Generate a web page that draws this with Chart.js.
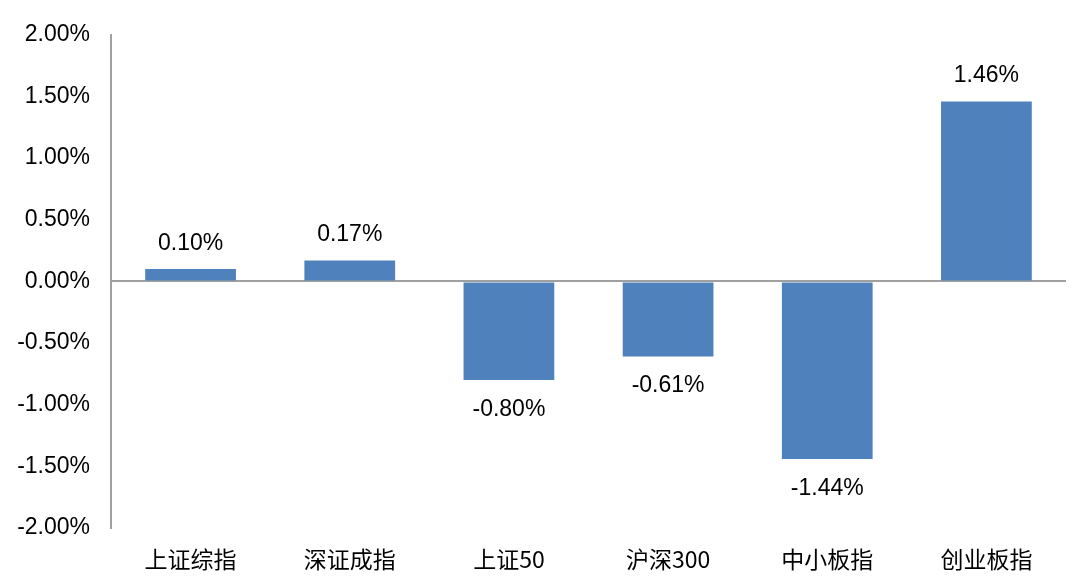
<!DOCTYPE html>
<html>
<head>
<meta charset="utf-8">
<script src="https://cdn.jsdelivr.net/npm/chart.js@4/dist/chart.umd.min.js"></script>
<style>
  body { margin: 0; background: #fff; }
  #wrap { width: 1077px; height: 585px; }
</style>
</head>
<body>
<div id="wrap"><canvas id="barChart"></canvas></div>
<script>
const categories = ["上证综指", "深证成指", "上证50", "沪深300", "中小板指", "创业板指"];
const changes = [0.10, 0.17, -0.80, -0.61, -1.44, 1.46];
const yTicks = [-2, -1.5, -1, -0.5, 0, 0.5, 1, 1.5, 2];

const labelFont = "23px 'Liberation Sans', Arial, sans-serif";

// value labels above / below the bars
const valueLabels = {
  id: "valueLabels",
  afterDatasetsDraw(chart) {
    const ctx = chart.ctx;
    const meta = chart.getDatasetMeta(0);
    ctx.save();
    ctx.font = labelFont;
    ctx.fillStyle = "#000";
    ctx.textAlign = "center";
    meta.data.forEach((bar, i) => {
      const v = changes[i];
      const text = v.toFixed(2) + "%";
      if (v >= 0) {
        ctx.textBaseline = "bottom";
        ctx.fillText(text, bar.x, bar.y - 14);
      } else {
        ctx.textBaseline = "top";
        ctx.fillText(text, bar.x, bar.y + 18);
      }
    });
    ctx.restore();
  },
};

function initializeChart() {
  const ctx = document.getElementById("barChart").getContext("2d");
  new Chart(ctx, {
    type: "bar",
    data: {
      labels: categories,
      datasets: [
        {
          data: changes,
          backgroundColor: "#4F81BD",
          barPercentage: 0.57,
          categoryPercentage: 1,
        },
      ],
    },
    options: {
      responsive: true,
      maintainAspectRatio: false,
      animation: false,
      layout: { padding: { top: 32, right: 11, left: 0, bottom: 0 } },
      plugins: {
        legend: { display: false },
        tooltip: { enabled: false },
      },
      scales: {
        x: {
          grid: { display: false },
          border: { display: false },
          ticks: {
            color: "#000",
            font: { family: "'Noto Sans CJK SC', sans-serif", size: 23 },
            padding: 9,
            maxRotation: 0,
          },
          afterFit(scale) {
            scale.height = 57;
          },
        },
        y: {
          min: -2,
          max: 2,
          afterBuildTicks(scale) {
            scale.ticks = yTicks.map((v) => ({ value: v }));
          },
          afterFit(scale) {
            scale.width = 111;
          },
          grid: {
            drawTicks: false,
            lineWidth: 2,
            color: (c) => (c.tick && c.tick.value === 0 ? "#a0a0a0" : "rgba(0,0,0,0)"),
          },
          border: { display: true, color: "#a0a0a0", width: 2 },
          ticks: {
            color: "#000",
            font: { family: "'Liberation Sans', Arial, sans-serif", size: 23 },
            padding: 21,
            callback: (v) => v.toFixed(2) + "%",
          },
        },
      },
    },
    plugins: [valueLabels],
  });
}

window.onload = function () {
  initializeChart();
};
</script>
</body>
</html>
